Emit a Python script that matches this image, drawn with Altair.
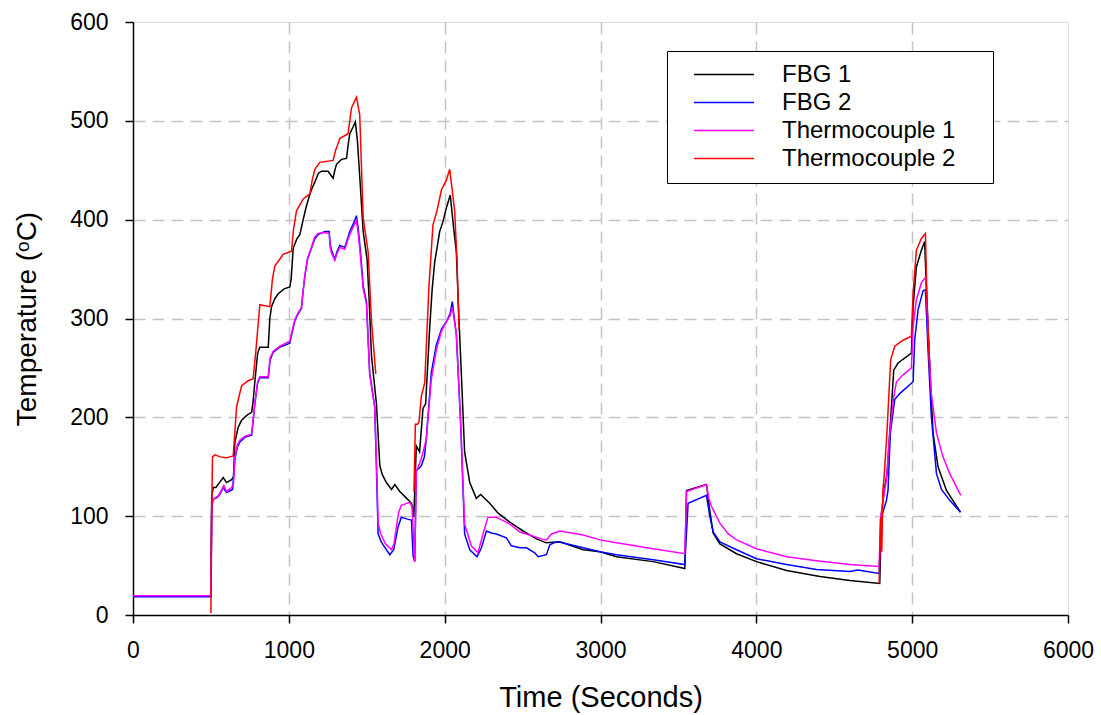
import altair as alt
import pandas as pd

# ---------------- data ----------------
SERIES = ["FBG 1", "FBG 2", "Thermocouple 1", "Thermocouple 2"]
COLORS = ["#000000", "#0000ff", "#ff00ff", "#ff0000"]

FBG1_T = [0, 500, 505, 515, 532, 560, 579, 600, 633, 645, 654, 675, 697, 730, 761, 770, 782, 800, 814, 868,
          878, 889, 910, 932, 970, 1006, 1015, 1028, 1050, 1071, 1092, 1110, 1135, 1150, 1167, 1190, 1210, 1252,
          1270, 1284, 1295, 1306, 1338, 1370, 1380, 1391, 1410, 1427, 1440, 1455, 1477, 1502, 1515, 1530, 1545,
          1562, 1584, 1600, 1626, 1659, 1680, 1712, 1750, 1787, 1795, 1802, 1818, 1839, 1861, 1878, 1904, 1920,
          1936, 1968, 1989, 2011, 2036, 2058, 2075, 2092, 2109, 2128, 2161, 2203, 2231, 2289, 2343, 2418, 2503,
          2589, 2653, 2739, 2889, 2996, 3103, 3338, 3541, 3552, 3595, 3680, 3701, 3723, 3766, 3873, 4001, 4194,
          4408, 4600, 4792, 4803, 4824, 4839, 4856, 4882, 4910, 4995, 5006, 5027, 5059, 5080, 5090, 5113, 5134,
          5166, 5220, 5310]
FBG1_V = [19, 19, 120, 129, 129, 135, 139, 134, 137, 140, 175, 190, 197, 202, 205, 215, 236, 265, 271, 271,
          300, 312, 320, 325, 330, 332, 340, 371, 380, 385, 400, 412, 426, 432, 438, 447, 449, 449,
          445, 442, 450, 456, 461, 462, 475, 487, 493, 499, 480, 444, 388, 360, 320, 263, 240,
          214, 151, 142, 134, 127, 132, 125, 119, 113, 108, 99, 171, 165, 209, 214, 291, 330,
          357, 388, 398, 412, 425, 391, 367, 298, 237, 165, 134, 118, 122, 113, 103, 94, 85,
          77, 73, 74, 66, 64, 59, 54, 47, 126, 128, 132, 106, 83, 72, 62, 54, 45,
          39, 35, 32, 103, 130, 143, 184, 248, 255, 265, 312, 352, 369, 378, 336, 251, 184,
          150, 126, 104]

FBG2_T = [0, 500, 505, 515, 540, 558, 579, 600, 639, 654, 670, 686, 720, 761, 770, 782, 800, 814, 868, 880,
          900, 943, 1006, 1020, 1039, 1060, 1081, 1090, 1103, 1120, 1145, 1165, 1188, 1231, 1259, 1265, 1274,
          1295, 1310, 1327, 1359, 1375, 1391, 1420, 1434, 1446, 1460, 1477, 1498, 1519, 1551, 1562, 1573, 1590,
          1605, 1648, 1673, 1690, 1701, 1722, 1760, 1787, 1797, 1808, 1818, 1850, 1870, 1882, 1914, 1946, 1979,
          2015, 2035, 2049, 2062, 2075, 2103, 2128, 2161, 2208, 2236, 2268, 2300, 2332, 2396, 2428, 2483, 2525,
          2578, 2600, 2653, 2675, 2700, 2729, 2889, 2996, 3103, 3338, 3541, 3562, 3680, 3701, 3723, 3766, 3873,
          4001, 4194, 4386, 4600, 4650, 4788, 4803, 4835, 4845, 4860, 4888, 4920, 5006, 5016, 5038, 5070, 5085,
          5102, 5123, 5156, 5188, 5241, 5310]
FBG2_V = [18.5, 18.5, 110, 117, 119, 122, 129, 124, 127, 158, 170, 175, 180, 182, 195, 214, 235, 240, 240, 258,
          266, 271, 275, 285, 298, 305, 310, 325, 343, 360, 371, 380, 385, 388, 388, 375, 369,
          360, 368, 374, 372, 380, 388, 398, 404, 390, 367, 333, 317, 245, 211, 150, 82, 75,
          71, 61, 66, 80, 89, 99, 97, 96, 60, 54, 146, 151, 160, 178, 245, 273, 289,
          298, 305, 317, 300, 284, 193, 82, 66, 59, 68, 85, 83, 82, 78, 70, 68, 68,
          63, 59, 61, 71, 73, 74, 68, 64, 61, 56, 51, 113, 121, 100, 84, 74, 66,
          57, 51, 46, 44, 45.5, 42, 99, 116, 126, 184, 218, 224, 236, 278, 309, 328, 329,
          268, 201, 143, 127, 116, 104]

TC1_T = [0, 500, 505, 515, 550, 583, 600, 633, 645, 654, 670, 686, 720, 761, 770, 782, 800, 814, 868, 880,
         900, 943, 1006, 1020, 1039, 1060, 1081, 1090, 1103, 1120, 1145, 1165, 1188, 1231, 1259, 1265, 1274,
         1295, 1310, 1327, 1359, 1375, 1391, 1420, 1434, 1446, 1460, 1477, 1498, 1519, 1551, 1562, 1573, 1590,
         1620, 1659, 1675, 1690, 1705, 1722, 1776, 1790, 1797, 1808, 1818, 1850, 1882, 1914, 1946, 1979, 2015,
         2035, 2049, 2062, 2075, 2103, 2128, 2171, 2214, 2246, 2278, 2332, 2418, 2483, 2525, 2621, 2653, 2685,
         2739, 2889, 2996, 3103, 3338, 3541, 3552, 3680, 3695, 3712, 3766, 3820, 3873, 4001, 4194, 4386, 4600,
         4788, 4796, 4813, 4835, 4856, 4882, 4899, 4942, 4995, 5006, 5027, 5059, 5087, 5102, 5123, 5156, 5198,
         5241, 5312]
TC1_V = [19.5, 19.5, 110, 117, 121, 131, 125, 129, 133, 160, 172, 177, 181, 183, 196, 215, 236, 241, 241, 260,
         267, 272, 277, 287, 299, 306, 311, 326, 344, 361, 372, 382, 386, 387, 386, 372, 366,
         359, 366, 372, 370, 378, 385, 395, 399, 385, 362, 330, 315, 243, 210, 160, 93, 82,
         72, 66, 72, 89, 104, 111, 114, 110, 89, 54, 145, 158, 178, 238, 268, 287, 298,
         303, 311, 298, 284, 193, 92, 70, 63, 82, 99, 99, 92, 84, 82, 77, 76, 82,
         85, 81, 76, 73, 67, 62, 125, 132, 118, 110, 93, 82, 76, 67, 59, 55, 51,
         49, 96, 116, 137, 184, 221, 236, 243, 250, 292, 319, 336, 342, 285, 224, 184, 160,
         143, 121]

# Thermocouple 2 was only recorded in three separate stretches
TC2_SEG1_T = [500, 505, 510, 526, 560, 600, 643, 665, 697, 740, 771, 790, 814, 878, 895, 910, 964, 1017, 1030,
              1049, 1092, 1135, 1150, 1167, 1199, 1284, 1300, 1327, 1380, 1402, 1434, 1455, 1477, 1509, 1530, 1558]
TC2_SEG1_V = [2, 100, 160, 162, 160, 159, 161, 211, 232, 237, 239, 270, 314, 312, 340, 353, 365, 368, 390,
              409, 421, 426, 440, 451, 458, 460, 470, 482, 487, 513, 524, 506, 402, 367, 298, 244]
TC2_SEG2_T = [1803, 1812, 1826, 1835, 1850, 1872, 1899, 1925, 1951, 1979, 2011, 2032, 2043, 2064, 2079, 2092]
TC2_SEG2_V = [125, 193, 193, 195, 221, 235, 332, 395, 409, 430, 440, 451, 437, 409, 360, 289]
TC2_SEG3_T = [4788, 4798, 4805, 4812, 4820, 4838, 4862, 4888, 4942, 4995, 5006, 5027, 5059, 5085, 5095, 5113]
TC2_SEG3_V = [32, 99, 64, 126, 140, 184, 258, 272, 278, 282, 326, 369, 381, 386, 319, 245]

X_TICKS = [0, 1000, 2000, 3000, 4000, 5000, 6000]
Y_TICKS = [0, 100, 200, 300, 400, 500, 600]

# ---------------- build long table ----------------
rows = []
def add(name, seg, ts, vs):
    for t, v in zip(ts, vs):
        rows.append({"series": name, "seg": f"{name}-{seg}", "t": t, "v": v})

add("FBG 1", 1, FBG1_T, FBG1_V)
add("FBG 2", 1, FBG2_T, FBG2_V)
add("Thermocouple 1", 1, TC1_T, TC1_V)
add("Thermocouple 2", 1, TC2_SEG1_T, TC2_SEG1_V)
add("Thermocouple 2", 2, TC2_SEG2_T, TC2_SEG2_V)
add("Thermocouple 2", 3, TC2_SEG3_T, TC2_SEG3_V)
df = pd.DataFrame(rows)

FONT = "Liberation Sans"
GRID_COLOR = "#c4c4c4"

x_axis = alt.Axis(
    values=X_TICKS, format="d", title="Time (Seconds)",
    labelFont=FONT, labelFontSize=23, labelColor="black", labelPadding=16,
    labelFlush=False, labelOverlap=False,
    tickColor="black", tickSize=8, tickWidth=1.5,
    domainColor="black", domainWidth=1.5,
    grid=True, gridColor=GRID_COLOR, gridDash=[12, 7], gridWidth=1.5,
    gridOpacity=alt.condition("datum.value == 0 || datum.value == 6000", alt.value(0), alt.value(1)),
    titleFont=FONT, titleFontSize=29, titleFontWeight="normal", titleColor="black",
    titleBaseline="alphabetic", titleY=91,
)
y_axis = alt.Axis(
    values=Y_TICKS, format="d", title="Temperature (\u1d52C)",
    labelFont=FONT, labelFontSize=23, labelColor="black", labelPadding=17,
    labelFlush=False, labelOverlap=False,
    tickColor="black", tickSize=8, tickWidth=1.5,
    domainColor="black", domainWidth=1.5,
    grid=True, gridColor=GRID_COLOR, gridDash=[12, 7], gridWidth=1.5,
    gridOpacity=alt.condition("datum.value == 0 || datum.value == 600", alt.value(0), alt.value(1)),
    titleFont=FONT, titleFontSize=28, titleFontWeight="normal", titleColor="black",
    titleBaseline="alphabetic", titleX=-98, titleAngle=270,
)

legend = alt.Legend(
    title=None, orient="none", legendX=534, legendY=29,
    strokeColor="black", fillColor="white", padding=12,
    symbolType="stroke", symbolSize=3600, symbolStrokeWidth=1.5, symbolOffset=14,
    clipHeight=23,
    labelOffset=27, labelFont=FONT, labelFontSize=24, labelColor="black", labelLimit=400,
    rowPadding=3,
    labelExpr="datum.label + '\u00a0\u00a0\u00a0\u2009\u200b'",
)

chart = alt.Chart(df).mark_line(strokeWidth=1.5, interpolate="linear").encode(
    x=alt.X("t:Q", scale=alt.Scale(domain=[0, 6000], nice=False, zero=False), axis=x_axis),
    y=alt.Y("v:Q", scale=alt.Scale(domain=[0, 600], nice=False), axis=y_axis),
    color=alt.Color("series:N", scale=alt.Scale(domain=SERIES, range=COLORS), legend=legend),
    detail="seg:N",
    order=alt.Order("t:Q"),
).properties(
    width=935, height=593,
    autosize=alt.AutoSizeParams(type="none"),
    padding={"left": 133, "top": 22, "right": 33, "bottom": 100},
    background="white",
).configure_view(
    stroke="black", strokeWidth=1.5
).configure_legend(
    strokeWidth=1.5
).configure(font=FONT)

chart.save("out.html", embed_options={"renderer": "svg", "actions": False})
